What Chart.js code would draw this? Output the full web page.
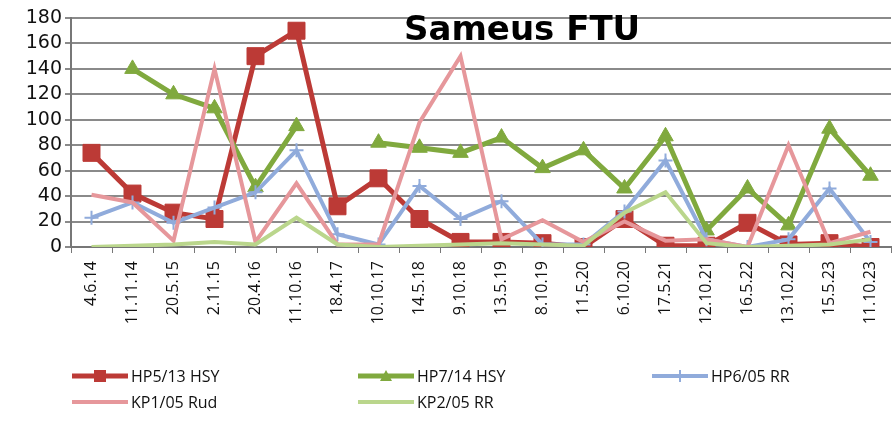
<!DOCTYPE html>
<html>
<head>
<meta charset="utf-8">
<script src="https://cdn.jsdelivr.net/npm/chart.js@4/dist/chart.umd.min.js"></script>
<style>
  html, body { margin: 0; padding: 0; background: #fff; }
  #wrap { position: relative; width: 892px; height: 421px; overflow: hidden; }
  #myChart { position: absolute; left: 0; top: 0; }
  #title { position: absolute; left: 404px; top: 8px; font: bold 34px "DejaVu Sans"; color: #000; white-space: nowrap; }
  .leg { position: absolute; font: 16px "Open Sans"; color: #111; display: flex; align-items: center; white-space: nowrap; }
  .leg svg { margin-right: 3px; }
</style>
</head>
<body>
<div id="wrap">
  <canvas id="myChart" width="904" height="421"></canvas>
  <div id="title">Sameus FTU</div>
</div>
<script>
const labels = ['4.6.14', '11.11.14', '20.5.15', '2.11.15', '20.4.16', '11.10.16', '18.4.17',
    '10.10.17', '14.5.18', '9.10.18', '13.5.19', '8.10.19', '11.5.20', '6.10.20', '17.5.21',
    '12.10.21', '16.5.22', '13.10.22', '15.5.23', '11.10.23'];

// arvot kuvasta luettuna
const hp5 = [74, 42, 27, 22, 150, 170, 32, 54, 22, 4, 4, 3, 0, 22, 1, 1, 19, 2, 3, 0];
const hp7 = [null, 140, 120, 109, 47, 95, null, 82, 78, 74, 86, 62, 76, 46, 87, 13, 46, 17, 93, 56];
const hp6 = [23, 35, 19, 31, 43, 76, 10, 2, 48, 22, 36, 2, 2, 28, 68, 6, 0, 6, 46, 4];
const kp1 = [41, 35, 5, 140, 4, 50, 2, 2, 98, 150, 6, 21, 4, 20, 5, 6, 0, 80, 3, 12];
const kp2 = [0, 1, 2, 4, 2, 23, 2, 0, 1, 2, 3, 2, 1, 27, 43, 3, 0, 1, 2, 6];

const names = ['HP5/13 HSY', 'HP7/14 HSY', 'HP6/05 RR', 'KP1/05 Rud', 'KP2/05 RR'];
const yTicks = [0, 20, 40, 60, 80, 100, 120, 140, 160, 180];

const colors = ['#BC3A36', '#80A93E', '#90ABDB', '#E6979B', '#BAD68C'];
const series = [hp5, hp7, hp6, kp1, kp2];
const markers = ['rect', 'triangle', 'cross', false, false];
const radii = [12, 9, 7, 0, 0];
const widths = [5, 5, 4, 4, 4];

const data = {
    labels: labels,
    datasets: series.map((vals, i) => ({
        label: names[i],
        data: vals,
        borderColor: colors[i],
        backgroundColor: colors[i],
        borderWidth: widths[i],
        pointStyle: markers[i] || 'circle',
        pointRadius: radii[i],
        pointBorderWidth: i == 2 ? 2 : 1,
        pointBorderColor: colors[i],
        pointBackgroundColor: colors[i],
        tension: 0,
        spanGaps: false,
        order: 4 - i /* viimeinen sarja päällimmäiseksi kuten Excelissä */
    }))
};

const config = {
    type: 'line',
    data: data,
    options: {
        responsive: false,
        animation: false,
        layout: { padding: { top: 18, left: 0, right: 6, bottom: 74 } },
        plugins: {
            legend: { display: false },
            title: { display: false },
            tooltip: { enabled: false }
        },
        scales: {
            x: {
                offset: true,
                afterFit: (s) => { s.height = 100; s.paddingLeft = 0; s.paddingRight = 0; },
                grid: { display: true, offset: true, drawOnChartArea: false, drawTicks: true, tickLength: 6, color: '#777', lineWidth: 1 },
                border: { display: true, color: '#777', width: 2 },
                ticks: {
                    autoSkip: false, minRotation: 90, maxRotation: 90, padding: 8,
                    color: '#111', font: { family: 'Open Sans', size: 16 }
                }
            },
            y: {
                min: 0,
                max: 180,
                afterFit: (s) => { s.width = 71; s.paddingTop = 0; s.paddingBottom = 0; },
                afterBuildTicks: (s) => { s.ticks = yTicks.map(v => ({ value: v })); },
                grid: { color: '#8a8a8a', lineWidth: 2, tickLength: 6, drawTicks: true },
                border: { display: true, color: '#777', width: 2 },
                ticks: { autoSkip: false, padding: 3, color: '#111', font: { family: 'DejaVu Sans', size: 19 } }
            }
        }
    }
};

const myChart = new Chart(document.getElementById('myChart'), config);

// legenda HTML:nä, kolme saraketta kuten alkuperäisessä
const legPos = [[72, 376], [358, 376], [652, 376], [72, 402], [358, 402]];
function markerSvg(i) {
    const c = colors[i];
    let m = '';
    if (markers[i] == 'rect') m = `<rect x="22" y="2" width="12" height="12" fill="${c}"/>`;
    if (markers[i] == 'triangle') m = `<polygon points="28,2 34,13 22,13" fill="${c}"/>`;
    if (markers[i] == 'cross') m = `<path d="M28 2 V14 M22 8 H34" stroke="${c}" stroke-width="2"/>`;
    return `<svg width="56" height="16"><line x1="0" y1="8" x2="56" y2="8" stroke="${c}" stroke-width="${widths[i]}"/>${m}</svg>`;
}
names.forEach((n, i) => {
    const d = document.createElement('div');
    d.className = 'leg';
    d.style.left = legPos[i][0] + 'px';
    d.style.top = (legPos[i][1] - 11) + 'px';
    d.innerHTML = markerSvg(i) + '<span>' + n + '</span>';
    document.getElementById('wrap').appendChild(d);
});
</script>
</body>
</html>
